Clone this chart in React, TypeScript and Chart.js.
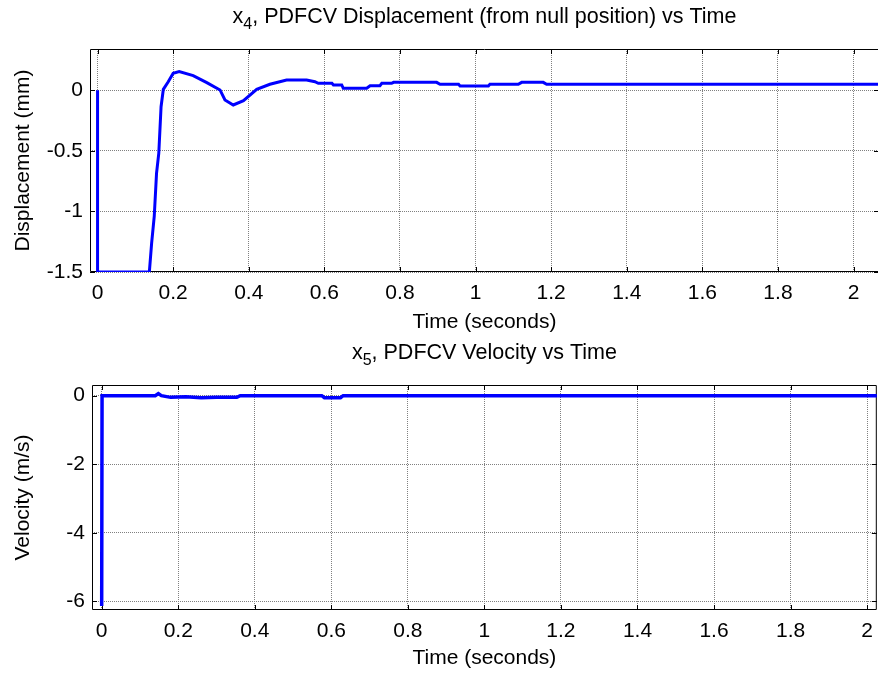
import React, { useEffect, useRef } from "react";
import { Chart, registerables } from "chart.js";

Chart.register(...registerables);

const FONT_FAMILY = "'Liberation Sans', Arial, Helvetica, sans-serif";
const FONT_SIZE = 21;
const TITLE_SIZE = 21.5;
const SUB_SIZE = 16;
const GRID_COLOR = "#808080";
const LINE_COLOR = "#0000ff";

// ---- tick labels ----
const timeTicks = [0, 0.2, 0.4, 0.6, 0.8, 1, 1.2, 1.4, 1.6, 1.8, 2];
const dispTicks = [-1.5, -1, -0.5, 0];
const velTicks = [-6, -4, -2, 0];

// ---- x4: displacement (mm) vs time (s) ----
const dispTime = [
  0, 0, 0.137, 0.143, 0.15, 0.156, 0.162, 0.168, 0.174, 0.187,
  0.2, 0.216, 0.253, 0.289, 0.324, 0.337, 0.359, 0.386, 0.421, 0.456,
  0.5, 0.553, 0.575, 0.584, 0.62, 0.624, 0.646, 0.65, 0.712, 0.721,
  0.747, 0.752, 0.778, 0.783, 0.897, 0.906, 0.955, 0.959, 1.034, 1.038,
  1.113, 1.122, 1.179, 1.188, 2.1,
];
const dispValues = [
  0, -1.5, -1.5, -1.263, -1.04, -0.686, -0.52, -0.136, 0.007, 0.07,
  0.139, 0.153, 0.12, 0.062, 0.002, -0.081, -0.122, -0.087, 0.007, 0.049,
  0.084, 0.084, 0.07, 0.057, 0.057, 0.043, 0.043, 0.016, 0.016, 0.037,
  0.037, 0.057, 0.057, 0.065, 0.065, 0.049, 0.049, 0.035, 0.035, 0.049,
  0.049, 0.065, 0.065, 0.049, 0.049,
];

// ---- x5: velocity (m/s) vs time (s) ----
const velTime = [
  0, 0.001, 0.14, 0.148, 0.156, 0.18, 0.22, 0.26, 0.3, 0.353,
  0.362, 0.575, 0.582, 0.624, 0.631, 2.1,
];
const velValues = [
  -6.13, 0, 0, 0.06, 0, -0.05, -0.03, -0.06, -0.05, -0.05,
  0, 0, -0.06, -0.06, 0, 0,
];

const CANVAS_W = 882;
const CANVAS_H = 337;

type PanelSpec = {
  top: number;
  xs: number[];
  ys: number[];
  yTicks: number[];
  xMin: number;
  xMax: number;
  yMin: number;
  yMax: number;
  areaLeft: number;
  areaTop: number;
  areaBottom: number;
  areaRight: number;
  sub: string;
  titleRest: string;
  yTitle: string;
  xTitlePadBottom: number;
  lineWidth: number;
};

const font = { family: FONT_FAMILY, size: FONT_SIZE };

function makeTitlePlugin(sub: string, rest: string) {
  return {
    id: "subscriptTitle",
    afterDraw(chart: any) {
      const { ctx, chartArea } = chart;
      const big = `${TITLE_SIZE}px ${FONT_FAMILY}`;
      const small = `${SUB_SIZE}px ${FONT_FAMILY}`;
      ctx.save();
      ctx.fillStyle = "#000";
      ctx.textBaseline = "alphabetic";
      ctx.textAlign = "left";
      ctx.font = big;
      const wx = ctx.measureText("x").width;
      const wr = ctx.measureText(rest).width;
      ctx.font = small;
      const ws = ctx.measureText(sub).width;
      const total = wx + ws + wr;
      const cx = (chartArea.left + chartArea.right) / 2;
      let x = cx - total / 2;
      const y = chartArea.top - 26;
      ctx.font = big;
      ctx.fillText("x", x, y);
      x += wx;
      ctx.font = small;
      ctx.fillText(sub, x, y + 6);
      x += ws;
      ctx.font = big;
      ctx.fillText(rest, x, y);
      ctx.restore();
    },
  };
}

function makeAxesBoxPlugin(xTickValues: number[], yTickValues: number[]) {
  return {
    id: "matlabBox",
    beforeDatasetsDraw(chart: any) {
      const { ctx, chartArea: a, scales } = chart;
      const xs = scales.x;
      const ys = scales.y;
      const L = 5;
      ctx.save();
      ctx.strokeStyle = "#000";
      ctx.lineWidth = 1;
      ctx.beginPath();
      ctx.rect(a.left + 0.5, a.top + 0.5, a.right - a.left - 1, a.bottom - a.top - 1);
      ctx.stroke();
      ctx.beginPath();
      for (const v of xTickValues) {
        const p = Math.round(xs.getPixelForValue(v)) + 0.5;
        ctx.moveTo(p, a.bottom);
        ctx.lineTo(p, a.bottom - L);
        ctx.moveTo(p, a.top);
        ctx.lineTo(p, a.top + L);
      }
      for (const v of yTickValues) {
        const p = Math.round(ys.getPixelForValue(v)) + 0.5;
        ctx.moveTo(a.left, p);
        ctx.lineTo(a.left + L, p);
        ctx.moveTo(a.right, p);
        ctx.lineTo(a.right - L, p);
      }
      ctx.stroke();
      ctx.restore();
    },
  };
}

function Panel({ spec }: { spec: PanelSpec }) {
  const ref = useRef<HTMLCanvasElement>(null);
  useEffect(() => {
    const canvas = ref.current;
    if (!canvas) return;
    const points = spec.xs.map((x, i) => ({ x, y: spec.ys[i] }));
    const chart = new Chart(canvas, {
      type: "line",
      data: {
        datasets: [
          {
            data: points,
            borderColor: LINE_COLOR,
            backgroundColor: LINE_COLOR,
            borderWidth: spec.lineWidth,
            pointRadius: 0,
            tension: 0,
            fill: false,
          },
        ],
      },
      options: {
        animation: false,
        responsive: false,
        devicePixelRatio: 1,
        events: [],
        layout: {
          padding: {
            left: 0,
            top: spec.areaTop,
            right: CANVAS_W - spec.areaRight,
            bottom: 0,
          },
        },
        plugins: {
          legend: { display: false },
          title: { display: false },
          tooltip: { enabled: false },
        },
        scales: {
          x: {
            type: "linear",
            min: spec.xMin,
            max: spec.xMax,
            afterBuildTicks: (s: any) => {
              s.ticks = timeTicks.map((v) => ({ value: v }));
            },
            afterFit: (s: any) => {
              s.height = CANVAS_H - spec.areaBottom;
            },
            ticks: {
              color: "#000",
              font,
              padding: 9,
              maxRotation: 0,
              autoSkip: false,
              callback: (v: any) => String(v),
            },
            grid: { color: GRID_COLOR, lineWidth: 1, drawTicks: false },
            border: { display: false, dash: [1, 1] },
            title: {
              display: true,
              text: "Time (seconds)",
              color: "#000",
              font,
              padding: { top: 0, bottom: spec.xTitlePadBottom },
            },
          },
          y: {
            type: "linear",
            min: spec.yMin,
            max: spec.yMax,
            afterBuildTicks: (s: any) => {
              s.ticks = spec.yTicks.map((v) => ({ value: v }));
            },
            afterFit: (s: any) => {
              s.width = spec.areaLeft;
            },
            ticks: {
              color: "#000",
              font,
              padding: 7,
              autoSkip: false,
              callback: (v: any) => String(v),
            },
            grid: { color: GRID_COLOR, lineWidth: 1, drawTicks: false },
            border: { display: false, dash: [1, 1] },
            title: {
              display: true,
              text: spec.yTitle,
              color: "#000",
              font,
              padding: { top: 11, bottom: 0 },
            },
          },
        },
      },
      plugins: [
        makeAxesBoxPlugin(timeTicks, spec.yTicks),
        makeTitlePlugin(spec.sub, spec.titleRest),
      ],
    } as any);
    return () => chart.destroy();
  }, [spec]);
  return (
    <canvas
      ref={ref}
      width={CANVAS_W}
      height={CANVAS_H}
      style={{
        position: "absolute",
        left: 0,
        top: spec.top,
        width: CANVAS_W,
        height: CANVAS_H,
        display: "block",
      }}
    />
  );
}

const topSpec: PanelSpec = {
  top: 0,
  xs: dispTime,
  ys: dispValues,
  yTicks: dispTicks,
  xMin: -0.02,
  xMax: 2.0673,
  yMin: -1.5,
  yMax: 0.34,
  areaLeft: 90,
  areaTop: 49,
  areaBottom: 272,
  areaRight: 879,
  sub: "4",
  titleRest: ", PDFCV Displacement (from null position) vs Time",
  yTitle: "Displacement (mm)",
  xTitlePadBottom: 2,
  lineWidth: 3,
};

const bottomSpec: PanelSpec = {
  top: 337,
  xs: velTime,
  ys: velValues,
  yTicks: velTicks,
  xMin: -0.0253,
  xMax: 2.0253,
  yMin: -6.25,
  yMax: 0.31,
  areaLeft: 92,
  areaTop: 48,
  areaBottom: 273,
  areaRight: 879,
  sub: "5",
  titleRest: ", PDFCV Velocity vs Time",
  yTitle: "Velocity (m/s)",
  xTitlePadBottom: 3,
  lineWidth: 3.5,
};

export default function App() {
  return (
    <div
      style={{
        position: "absolute",
        left: 0,
        top: 0,
        width: 878,
        height: 674,
        overflow: "hidden",
        background: "#fff",
      }}
    >
      <Panel spec={topSpec} />
      <Panel spec={bottomSpec} />
    </div>
  );
}
